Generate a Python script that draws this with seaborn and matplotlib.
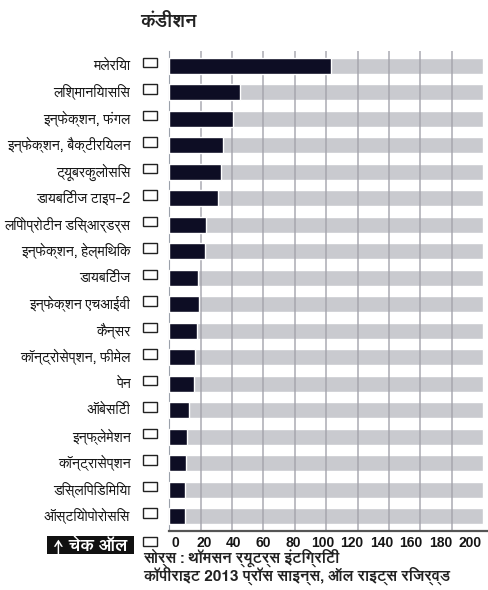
import matplotlib
matplotlib.use("Agg")
import matplotlib.pyplot as plt
from matplotlib.patches import Rectangle
from matplotlib.transforms import ScaledTranslation, blended_transform_factory
import seaborn as sns
import pandas as pd

# ---------------- data ----------------
conditions = [
    "मलेरिया",
    "लिश्मानियासिस",
    "इन्फेक्शन, फंगल",
    "इन्फेक्शन, बैक्टीरियलन",
    "ट्यूबरकुलोसिस",
    "डायबिटीज टाइप–2",
    "लिपोप्रोटीन डिस्आर्डर्स",
    "इन्फेक्शन, हेल्मिंथिक",
    "डायबिटीज",
    "इन्फेक्शन एचआईवी",
    "कैन्सर",
    "कॉन्ट्रोसेप्शन, फीमेल",
    "पेन",
    "ऑबेसिटी",
    "इन्फ्लेमेशन",
    "कॉन्ट्रासेप्शन",
    "डिस्लिपिडिमिया",
    "ऑस्टियोपोरोसिस",
]
counts = [103, 45, 40.5, 34.5, 33, 31, 23.5, 22.5, 18.5, 19, 17.5, 16.3, 15.6, 12.6, 11.6, 10.7, 9.9, 9.9]
scale_max = [200] * len(conditions)
x_ticks = [0, 20, 40, 60, 80, 100, 120, 140, 160, 180, 200]

title = "कंडीशन"
button_text = "↑ चेक ऑल"
source_1 = "सोर्स : थॉमसन र्यूटर्स इंटिग्रिटी"
source_2 = "कॉपीराइट 2013 प्रॉस साइन्स, ऑल राइट्स रिजर्व्ड"

sns.set_theme(style="white")
FAM = ["FreeSans", "DejaVu Sans"]
plt.rcParams["font.family"] = FAM

df = pd.DataFrame({"condition": conditions, "count": counts, "max": scale_max})

fig = plt.figure(figsize=(4.89, 5.90), dpi=100)
ax = fig.add_axes([169.3 / 489, 59.3 / 590, (487 - 169.3) / 489, (539 - 59.3) / 590])

# grey scale track
sns.barplot(data=df, y="condition", x="max", orient="h", color="#c9cacf",
            width=0.6, saturation=1, ax=ax, zorder=1)
# vertical gridlines
for v in x_ticks[1:-1]:
    ax.axvline(v, color="#a2a2aa", lw=1.1, alpha=0.9, zorder=2)
# value bars
sns.barplot(data=df, y="condition", x="count", orient="h", color="#0d0d24",
            width=0.6, saturation=1, ax=ax, zorder=3)

ax.set_xlim(0, 202.5)
ax.set_ylim(len(conditions) - 0.45, -0.55)
ax.set_xlabel("")
ax.set_ylabel("")

for s in ["top", "right"]:
    ax.spines[s].set_visible(False)
ax.spines["bottom"].set_color("#555555")
ax.spines["bottom"].set_linewidth(1.6)
ax.spines["left"].set_color("#9aa0aa")
ax.spines["left"].set_linewidth(0.8)

# x ticks
ax.set_xticks(x_ticks)
ax.set_xticklabels([str(v) for v in x_ticks], fontsize=10, fontweight="bold",
                   color="#151515", family=["Liberation Sans", "DejaVu Sans"])
ax.tick_params(axis="x", length=0, pad=3.5)
for v, lab in zip(x_ticks, ax.get_xticklabels()):
    dx = (5.7 - 0.094 * v) / 100.0
    lab.set_transform(lab.get_transform() + ScaledTranslation(dx, 0, fig.dpi_scale_trans))

# y labels
ax.set_yticks(range(len(conditions)))
ax.set_yticklabels(conditions, fontsize=8.0, color="#151515")
ax.tick_params(axis="y", length=0, pad=28)
for lab in ax.get_yticklabels():
    lab.set_transform(lab.get_transform() + ScaledTranslation(0, 1.5 / 100, fig.dpi_scale_trans))

# checkboxes
tr = blended_transform_factory(ax.transAxes, ax.transData)
bx0 = (143.3 - 169.3) / 317.7
bw = 13.4 / 317.7
for i in range(len(conditions)):
    ax.add_patch(Rectangle((bx0, i - 0.29), bw, 0.36, transform=tr, fill=False,
                           edgecolor="#222222", lw=1.0, clip_on=False))

fig.patches.append(Rectangle((143.3 / 489, (590 - 545.5) / 590), 13.4 / 489, 9.0 / 590,
                             transform=fig.transFigure, fill=False, edgecolor="#222222", lw=1.0))
fig.patches.append(Rectangle((47 / 489, (590 - 554) / 590), 87 / 489, 18 / 590,
                             transform=fig.transFigure, facecolor="#111111", edgecolor="none"))
t_btn = fig.text(90.5 / 489, (590 - 545) / 590, button_text, color="white", fontsize=9,
                 fontweight="bold", ha="center", va="center")

t_title = fig.text(140 / 489, (590 - 21) / 590, title, fontsize=11, fontweight="bold",
                   color="#222222", ha="left", va="center")
t_s1 = fig.text(143 / 489, (590 - 558) / 590, source_1, fontsize=9, fontweight="bold",
                color="#222222", ha="left", va="center")
t_s2 = fig.text(143 / 489, (590 - 575.5) / 590, source_2, fontsize=9, fontweight="bold",
                color="#222222", ha="left", va="center")

# fit text sizes to the widths seen in the reference
fig.canvas.draw()
r = fig.canvas.get_renderer()
def fit(t, target):
    w = t.get_window_extent(r).width
    if w > 0:
        t.set_fontsize(t.get_fontsize() * target / w)
for t, w in [(t_btn, 74), (t_title, 56), (t_s1, 197)]:
    fit(t, w)
t_s2.set_fontsize(t_s1.get_fontsize())
labs = ax.get_yticklabels()
maxw = max(l.get_window_extent(r).width for l in labs)
for l in labs:
    l.set_fontsize(l.get_fontsize() * 126 / maxw)

fig.savefig("out.png", dpi=100, facecolor="white")
